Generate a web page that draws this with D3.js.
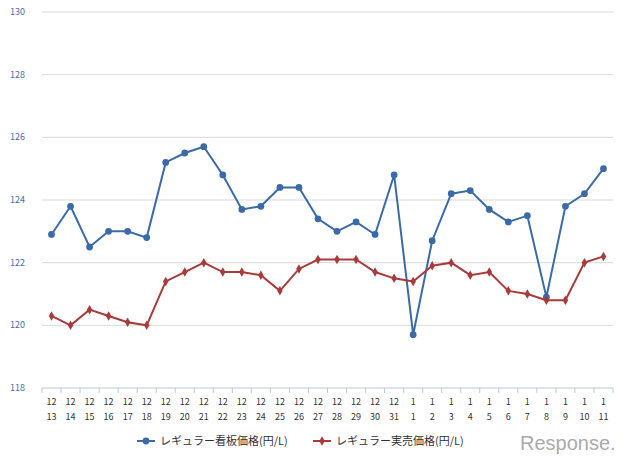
<!DOCTYPE html><html><head><meta charset="utf-8"><script src="https://d3js.org/d3.v7.min.js"></script>
<style>body{margin:0;background:#fff}</style></head><body><svg id="c" width="640" height="465"></svg><script>
const months=["12","12","12","12","12","12","12","12","12","12","12","12","12","12","12","12","12","12","12","1","1","1","1","1","1","1","1","1","1","1"];
const days=["13","14","15","16","17","18","19","20","21","22","23","24","25","26","27","28","29","30","31","1","2","3","4","5","6","7","8","9","10","11"];
const signPrice=[122.9,123.8,122.5,123.0,123.0,122.8,125.2,125.5,125.7,124.8,123.7,123.8,124.4,124.4,123.4,123.0,123.3,122.9,124.8,119.7,122.7,124.2,124.3,123.7,123.3,123.5,120.9,123.8,124.2,125.0];
const actualPrice=[120.3,120.0,120.5,120.3,120.1,120.0,121.4,121.7,122.0,121.7,121.7,121.6,121.1,121.8,122.1,122.1,122.1,121.7,121.5,121.4,121.9,122.0,121.6,121.7,121.1,121.0,120.8,120.8,122.0,122.2];
const yTicks=[118,120,122,124,126,128,130];
const svg=d3.select("#c");
const font="'Noto Sans CJK JP','Noto Sans',sans-serif";
const idx=d3.range(days.length);
const x=d3.scaleBand().domain(idx).range([42,613]);
const y=d3.scaleLinear().domain([118,130]).range([388,12]);
svg.selectAll(".g").data(yTicks.slice(1)).join("line").attr("x1",42).attr("x2",613).attr("y1",d=>y(d)).attr("y2",d=>y(d)).attr("stroke","#d9d9d9");
svg.selectAll(".yl").data(yTicks).join("text").attr("x",10).attr("y",d=>y(d)+3).attr("font-size",9).attr("fill","#4a6fa5").attr("font-family",font).text(d=>d);
svg.append("line").attr("x1",42).attr("x2",613).attr("y1",388).attr("y2",388).attr("stroke","#b8c8dc");
svg.selectAll(".tk").data(d3.range(days.length+1)).join("line").attr("x1",d=>42+d*x.step()).attr("x2",d=>42+d*x.step()).attr("y1",388).attr("y2",393).attr("stroke","#b8c8dc");
const xl=svg.selectAll(".xl").data(idx).join("text").attr("text-anchor","middle").attr("font-size",9).attr("fill","#333").attr("font-family",font);
xl.append("tspan").attr("x",d=>x(d)+x.bandwidth()/2).attr("y",405).text(d=>months[d]);
xl.append("tspan").attr("x",d=>x(d)+x.bandwidth()/2).attr("y",420).text(d=>days[d]);
const cx=d=>x(d)+x.bandwidth()/2;
function series(vals,col,sym){
 svg.append("path").datum(idx).attr("fill","none").attr("stroke",col).attr("stroke-width",2).attr("d",d3.line().x(cx).y(d=>y(vals[d])));
 svg.selectAll(null).data(idx).join("path").attr("transform",d=>`translate(${cx(d)},${y(vals[d])})`).attr("d",d3.symbol(sym,sym===d3.symbolCircle?36:26)).attr("fill",col);
}
series(signPrice,"#3a6aa8",d3.symbolCircle);
series(actualPrice,"#a83a3a",d3.symbolDiamond);
const leg=[["レギュラー看板価格(円/L)","#3a6aa8",d3.symbolCircle,146],["レギュラー実売価格(円/L)","#a83a3a",d3.symbolDiamond,322]];
leg.forEach(([t,c,s,lx])=>{
 svg.append("line").attr("x1",lx-9).attr("x2",lx+9).attr("y1",441).attr("y2",441).attr("stroke",c).attr("stroke-width",2);
 svg.append("path").attr("transform",`translate(${lx},441)`).attr("d",d3.symbol(s,s===d3.symbolCircle?36:26)).attr("fill",c);
 svg.append("text").attr("x",lx+14).attr("y",445).attr("font-size",11).attr("fill","#333").attr("font-family",font).text(t);
});
svg.append("text").attr("x",520).attr("y",450).attr("font-size",20).attr("fill","#aaa").attr("font-family","'Liberation Sans',sans-serif").text("Response.");
</script></body></html>
